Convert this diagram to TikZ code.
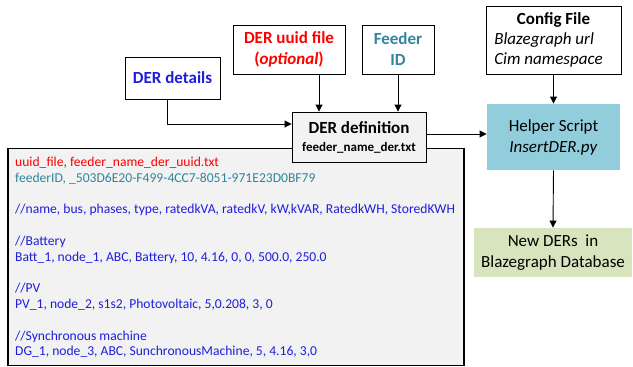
\documentclass[tikz,border=0pt]{standalone}
\usepackage{fontspec}
\setmainfont{Carlito}
\usetikzlibrary{arrows.meta}
\definecolor{grayfill}{HTML}{F2F2F2}
\definecolor{helperfill}{HTML}{92CDDC}
\definecolor{newfill}{HTML}{D7E4BD}
\definecolor{derblue}{RGB}{30,30,220}
\definecolor{derteal}{RGB}{49,133,156}
\definecolor{derred}{RGB}{255,0,0}
\tikzset{
  box/.style={draw=black, line width=0.9pt, rectangle, inner sep=0pt, align=center,
    font=\fontsize{17}{21}\selectfont},
  conn/.style={line width=0.9pt, -{Triangle[length=7pt,width=7pt]}},
  txtline/.style={anchor=base west, inner sep=0pt, font=\fontsize{13.6}{15.8}\selectfont, text=derblue}
}
\begin{document}
\begin{tikzpicture}[x=1pt,y=-1pt]
\useasboundingbox (0,0) rectangle (633,367);
% gray data box
\node[box, fill=grayfill, line width=1.2pt, minimum width=456pt, minimum height=217pt] (data) at (236,257.2) {};
% top boxes
\node[box, minimum width=95pt, minimum height=42pt, text=derblue, font=\fontsize{17}{21}\selectfont\bfseries] (details) at (172.5,78) {DER details};
\node[box, minimum width=112pt, minimum height=49pt, text=derred, font=\fontsize{17}{21}\selectfont\bfseries] (uuid) at (289,49.5) {DER uuid file\\(\textit{optional})};
\node[box, minimum width=72pt, minimum height=49pt, text=derteal, font=\fontsize{17}{21}\selectfont\bfseries] (feeder) at (398,49.5) {Feeder\\ID};
\node[box, minimum width=135pt, minimum height=68pt] (config) at (553.5,40) {\renewcommand{\arraystretch}{1.0}\begin{tabular}{@{}l@{\hspace{10pt}}}\multicolumn{1}{@{}c@{}}{\textbf{Config File}}\\[-1pt] \textit{Blazegraph url}\\[-1pt] \textit{Cim namespace}\end{tabular}};
\node[box, fill=grayfill, minimum width=134pt, minimum height=50pt, font=\fontsize{17}{21}\selectfont\bfseries] (defn) at (359,137) {DER definition\\[-3pt]{\fontsize{13}{15}\selectfont feeder\_name\_der.txt}};
\node[box, draw=none, fill=helperfill, minimum width=133pt, minimum height=66pt] (helper) at (553.5,137) {Helper Script\\\textit{InsertDER.py}};
\node[box, draw=none, fill=newfill, minimum width=158pt, minimum height=49pt] (newder) at (553,252.5) {New DERs\ \ in\\Blazegraph Database};
% connectors
\draw[conn] ([xshift=-5.5pt]details.south) |- ([yshift=13pt]defn.west);
\draw[conn] ([xshift=30pt]uuid.south) -- ([xshift=30pt]uuid.south |- defn.north);
\draw[conn] (feeder.south) -- (feeder.south |- defn.north);
\draw[conn] ([yshift=3pt]defn.east) -- ([yshift=3pt]defn.east -| helper.west);
\draw[conn] (config.south) -- (helper.north);
\draw[conn] (helper.south) -- (newder.north);
% data text
\node[txtline, text=derred] (l1) at (15,166.5) {uuid\_file, feeder\_name\_der\_uuid.txt};
\node[txtline, text=derteal] (l2) at (15,182.3) {feederID, \_503D6E20-F499-4CC7-8051-971E23D0BF79};
\node[txtline] (l3) at (15,213.8) {//name, bus, phases, type, ratedkVA, ratedkV, kW,kVAR, RatedkWH, StoredKWH};
\node[txtline] (l4) at (15,245.5) {//Battery};
\node[txtline] (l5) at (15,261.2) {Batt\_1, node\_1, ABC, Battery, 10, 4.16, 0, 0, 500.0, 250.0};
\node[txtline] (l6) at (15,292.8) {//PV};
\node[txtline] (l7) at (15,308.5) {PV\_1, node\_2, s1s2, Photovoltaic, 5,0.208, 3, 0};
\node[txtline] (l8) at (15,340) {//Synchronous machine};
\node[txtline] (l9) at (15,355.8) {DG\_1, node\_3, ABC, SunchronousMachine, 5, 4.16, 3,0};
\end{tikzpicture}
\end{document}
